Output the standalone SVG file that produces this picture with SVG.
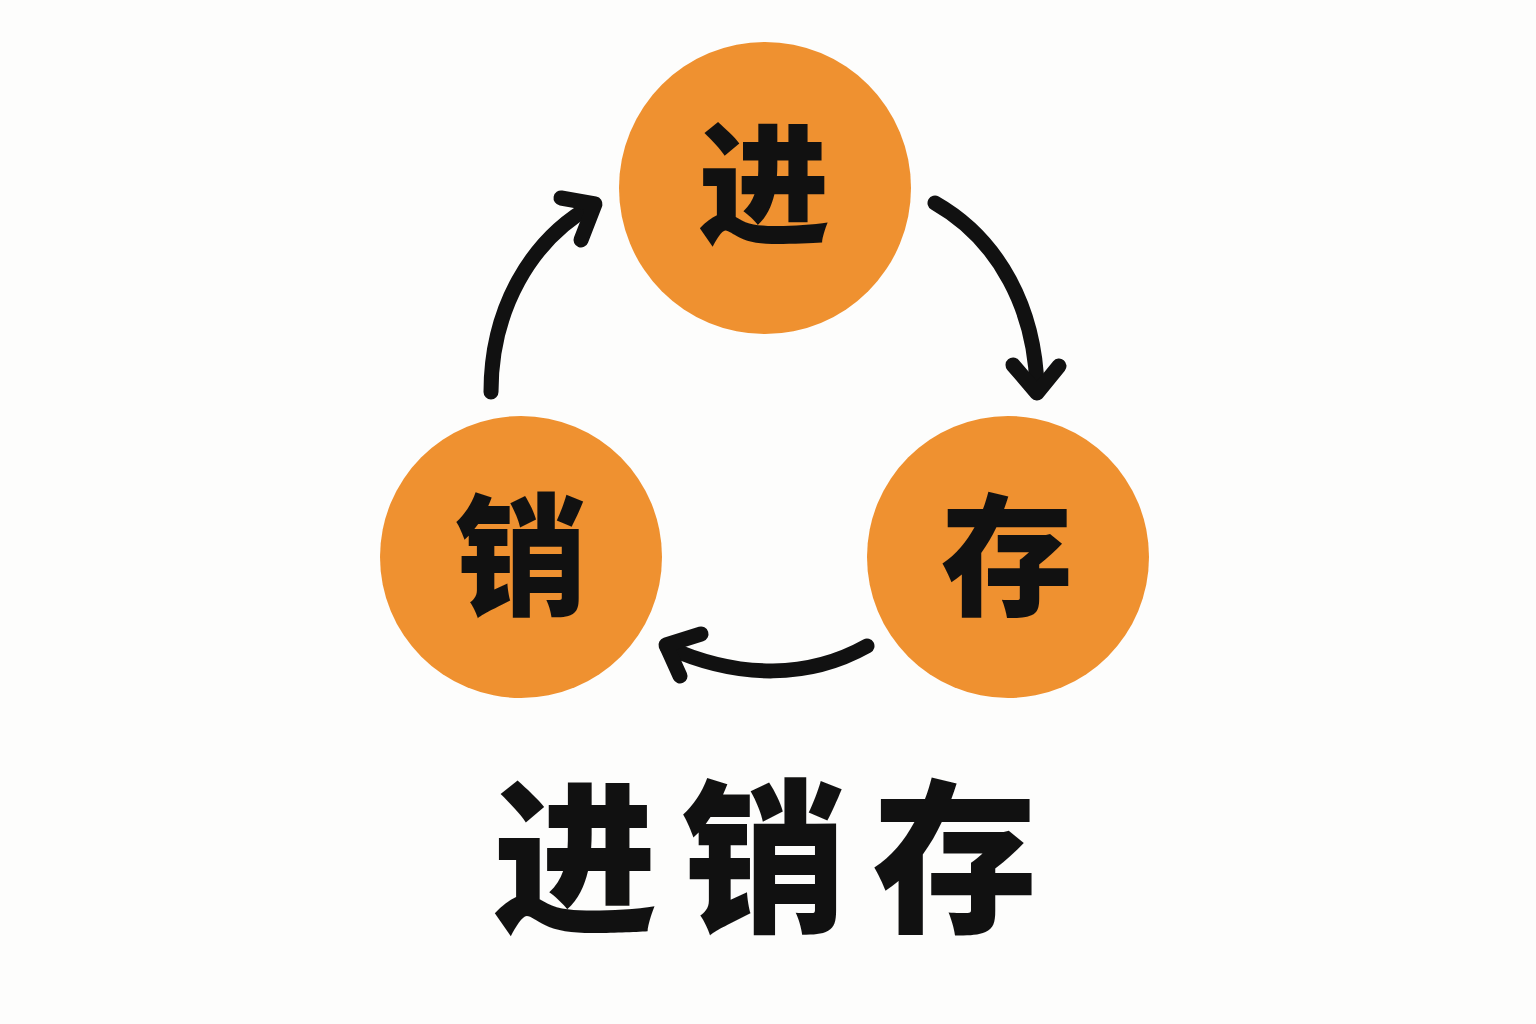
<svg xmlns="http://www.w3.org/2000/svg" width="1536" height="1024" viewBox="0 0 1536 1024">
<style>
.node{fill:#EF9130}
.lbl{font-family:"Noto Sans CJK SC",sans-serif;font-weight:900;fill:#111;text-anchor:middle;dominant-baseline:central}
.conn{fill:none;stroke:#111;stroke-width:15;stroke-linecap:round;stroke-linejoin:round}
.title{font-family:"Noto Sans CJK SC",sans-serif;font-weight:900;fill:#111;text-anchor:middle;dominant-baseline:central;font-size:165px}
</style>
<rect width="1536" height="1024" fill="#FDFDFC"/>
<g id="node-jin">
<circle class="node" cx="765" cy="188" r="146"/>
<text class="lbl" x="764" y="175" font-size="132">进</text>
</g>
<g id="node-cun">
<circle class="node" cx="1008" cy="557" r="141"/>
<text class="lbl" x="1007" y="547" font-size="132">存</text>
</g>
<g id="node-xiao">
<circle class="node" cx="521" cy="557" r="141"/>
<text class="lbl" x="521" y="547" font-size="132">销</text>
</g>
<g id="connectors">
<path class="conn" d="M491,392 C491,310 530,240 593,205"/>
<path class="conn" d="M561,198 L595,204 L581,240"/>
<path class="conn" d="M935,203 C1000,240 1035,310 1037,388"/>
<path class="conn" d="M1013,365 L1037,393 L1059,366"/>
<path class="conn" d="M867,646 C810,678 740,680 667,647"/>
<path class="conn" d="M701,634 L666,645 L680,676"/>
</g>
<g id="title">
<text class="title" x="575" y="847">进</text>
<text class="title" x="764" y="847">销</text>
<text class="title" x="955" y="847">存</text>
</g>
</svg>
